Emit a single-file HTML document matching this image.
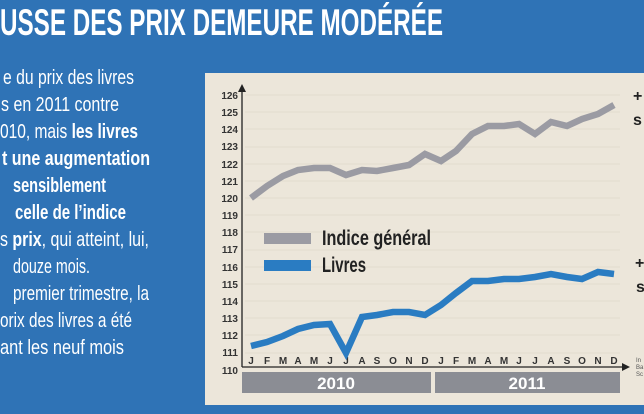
<!DOCTYPE html>
<html><head><meta charset="utf-8"><style>
html,body{margin:0;padding:0;background:#2f73b6;}
svg{display:block}
</style></head><body>
<svg width="644" height="414" viewBox="0 0 644 414" xmlns="http://www.w3.org/2000/svg" font-family="'Liberation Sans Narrow','Liberation Sans',sans-serif">
<rect width="644" height="414" fill="#2f73b6"/>
<text x="0" y="35" fill="#fff" font-weight="bold" font-size="37" textLength="443" lengthAdjust="spacingAndGlyphs">USSE DES PRIX DEMEURE MODÉRÉE</text>
<g fill="#fff" font-size="20">
<text x="3" y="84" textLength="131" lengthAdjust="spacingAndGlyphs">e du prix des livres</text>
<text x="1" y="111" textLength="118" lengthAdjust="spacingAndGlyphs">s en 2011 contre</text>
<text x="0" y="138" textLength="138" lengthAdjust="spacingAndGlyphs">010, mais <tspan font-weight="bold">les livres</tspan></text>
<text x="2" y="165" font-weight="bold" textLength="148" lengthAdjust="spacingAndGlyphs">t une augmentation</text>
<text x="13" y="192" font-weight="bold" textLength="93" lengthAdjust="spacingAndGlyphs">sensiblement</text>
<text x="15" y="219" font-weight="bold" textLength="111" lengthAdjust="spacingAndGlyphs">celle de l’indice</text>
<text x="0" y="246" textLength="149" lengthAdjust="spacingAndGlyphs">s <tspan font-weight="bold">prix</tspan>, qui atteint, lui,</text>
<text x="13" y="273" textLength="77" lengthAdjust="spacingAndGlyphs">douze mois.</text>
<text x="13" y="300" textLength="136" lengthAdjust="spacingAndGlyphs">premier trimestre, la</text>
<text x="0" y="327" textLength="132" lengthAdjust="spacingAndGlyphs">orix des livres a été</text>
<text x="0" y="354" textLength="124" lengthAdjust="spacingAndGlyphs">ant les neuf mois</text>
</g>
<rect x="205" y="73" width="439" height="332" fill="#ece6da"/>
<g stroke="#e2dccf" stroke-width="1">
<line x1="245" x2="620" y1="95" y2="95"/><line x1="245" x2="620" y1="112" y2="112"/><line x1="245" x2="620" y1="129" y2="129"/><line x1="245" x2="620" y1="147" y2="147"/><line x1="245" x2="620" y1="164" y2="164"/><line x1="245" x2="620" y1="181" y2="181"/><line x1="245" x2="620" y1="198" y2="198"/><line x1="245" x2="620" y1="215" y2="215"/><line x1="245" x2="620" y1="232" y2="232"/><line x1="245" x2="620" y1="250" y2="250"/><line x1="245" x2="620" y1="267" y2="267"/><line x1="245" x2="620" y1="284" y2="284"/><line x1="245" x2="620" y1="301" y2="301"/><line x1="245" x2="620" y1="318" y2="318"/><line x1="245" x2="620" y1="335" y2="335"/><line x1="245" x2="620" y1="353" y2="353"/>
</g>
<g font-size="10" font-weight="bold" fill="#333" text-anchor="end">
<text x="238" y="99">126</text><text x="238" y="116">125</text><text x="238" y="133">124</text><text x="238" y="150">123</text><text x="238" y="168">122</text><text x="238" y="185">121</text><text x="238" y="202">120</text><text x="238" y="219">119</text><text x="238" y="236">118</text><text x="238" y="253">117</text><text x="238" y="271">116</text><text x="238" y="288">115</text><text x="238" y="305">114</text><text x="238" y="322">113</text><text x="238" y="339">112</text><text x="238" y="356">111</text><text x="238" y="374">110</text>
</g>
<line x1="242" y1="90" x2="242" y2="367" stroke="#222" stroke-width="1.3"/>
<polygon points="238,92 246,92 242,84" fill="#222"/>
<line x1="242" y1="367" x2="623" y2="367" stroke="#222" stroke-width="1.3"/>
<polygon points="622,363 622,371 630,367" fill="#222"/>
<g font-size="10" font-weight="bold" fill="#333" text-anchor="middle">
<text x="251" y="364">J</text><text x="267" y="364">F</text><text x="283" y="364">M</text><text x="298" y="364">A</text><text x="314" y="364">M</text><text x="330" y="364">J</text><text x="346" y="364">J</text><text x="362" y="364">A</text><text x="377" y="364">S</text><text x="393" y="364">O</text><text x="409" y="364">N</text><text x="425" y="364">D</text><text x="441" y="364">J</text><text x="456" y="364">F</text><text x="472" y="364">M</text><text x="488" y="364">A</text><text x="504" y="364">M</text><text x="519" y="364">J</text><text x="535" y="364">J</text><text x="551" y="364">A</text><text x="567" y="364">S</text><text x="582" y="364">O</text><text x="598" y="364">N</text><text x="614" y="364">D</text>
</g>
<rect x="242" y="372" width="189" height="21" fill="#8b8d94"/>
<rect x="435" y="372" width="185" height="21" fill="#8b8d94"/>
<g font-size="17" font-weight="bold" fill="#fff" text-anchor="middle">
<text x="336" y="389">2010</text><text x="527" y="389">2011</text>
</g>
<polyline fill="none" stroke="#9b9ba3" stroke-width="6.5" stroke-linejoin="miter" points="251,198 267,186 283,176 298,170 314,168 330,168 346,175 362,170 377,171 393,168 409,165 425,154 441,161 456,151 472,134 488,126 504,126 519,124 535,134 551,122 567,126 582,119 598,114 614,105"/>
<polyline fill="none" stroke="#2a7cc2" stroke-width="6.5" stroke-linejoin="miter" points="251,346 267,342 283,336 298,329 314,325 330,324 346,353 362,317 377,315 393,312 409,312 425,315 441,305 456,293 472,281 488,281 504,279 519,279 535,277 551,274 567,277 582,279 598,272 614,274"/>
<rect x="264" y="233" width="47" height="11" fill="#9b9ba3"/>
<rect x="264" y="260" width="47" height="11" fill="#2a7cc2"/>
<g font-size="21" font-weight="bold" fill="#222">
<text x="322" y="245" textLength="109" lengthAdjust="spacingAndGlyphs">Indice général</text><text x="322" y="272" textLength="44" lengthAdjust="spacingAndGlyphs">Livres</text>
</g>
<g font-size="16" font-weight="bold" fill="#222">
<text x="633" y="101">+</text><text x="633" y="125">s</text>
<text x="635" y="268">+</text><text x="636" y="292">s</text>
</g>
<g font-size="6" fill="#555">
<text x="636" y="362">In</text><text x="636" y="369">Ba</text><text x="636" y="376">Sc</text>
</g>
</svg>
</body></html>
